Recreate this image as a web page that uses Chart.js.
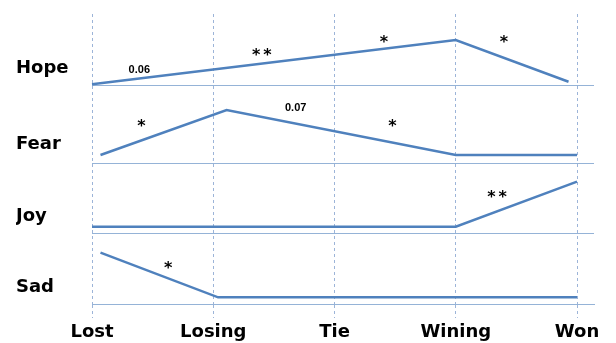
<!DOCTYPE html>
<html>
<head>
<meta charset="utf-8">
<script src="https://cdn.jsdelivr.net/npm/chart.js@4"></script>
<style>
  html, body { margin: 0; padding: 0; background: #fff; }
  #wrap { width: 616px; height: 343px; }
</style>
</head>
<body>
<div id="wrap"><canvas id="emoChart"></canvas></div>
<script>
const outcomes = ['Lost', 'Losing', 'Tie', 'Wining', 'Won'];
const emotions = ['Hope', 'Fear', 'Joy', 'Sad'];

// x = outcome step (0 Lost ... 4 Won), y = rating on a 0-10 panel scale
const hopeX = [0, 3, 3.93];
const hopeY = [0.1, 6.34, 0.46];
const fearX = [0.07, 1.11, 3, 4];
const fearY = [1.03, 6.79, 1.03, 1.03];
const joyX = [0, 3, 4];
const joyY = [0.9, 0.9, 7.33];
const sadX = [0.07, 1.04, 4];
const sadY = [7.23, 0.94, 0.94];

// significance marks
const noteText = ['0.06', '**', '*', '*', '*', '0.07', '*', '**', '*'];
const notePanel = ['Hope', 'Hope', 'Hope', 'Hope', 'Fear', 'Fear', 'Fear', 'Joy', 'Sad'];
const noteX = [0.39, 1.40, 2.42, 3.41, 0.42, 1.68, 2.49, 3.34, 0.64];
const noteY = [2.25, 4.65, 6.48, 6.48, 5.13, 7.18, 5.13, 5.57, 5.49];

const labelLevel = 2.35;
const lineBlue = '#4f81bd';
const baseBlue = '#95b3d7';
const dashBlue = '#9cb4d8';

const toPoints = (xs, ys) => xs.map((x, i) => ({ x: x, y: ys[i] }));

const noteLabels = {
        id: 'noteLabels',
        afterDatasetsDraw(chart) {
                const ctx = chart.ctx;
                const xs = chart.scales.x;
                ctx.save();
                ctx.fillStyle = '#000';
                ctx.textAlign = 'center';
                ctx.textBaseline = 'alphabetic';
                noteText.forEach((t, i) => {
                        const ys = chart.scales[notePanel[i]];
                        const px = xs.getPixelForValue(noteX[i]);
                        const py = ys.getPixelForValue(noteY[i]);
                        const star = t.indexOf('*') >= 0;
                        if (star) {
                                ctx.font = 'bold 16px "DejaVu Sans"';
                                ctx.letterSpacing = '3px';
                        } else {
                                ctx.font = 'bold 11px "Liberation Sans"';
                                ctx.letterSpacing = '0px';
                        }
                        const m = ctx.measureText(t);
                        const off = (m.actualBoundingBoxAscent - m.actualBoundingBoxDescent) / 2;
                        const shift = star ? (t.length - 1) * 1.5 : 0;
                        ctx.fillText(t, px + shift, py + off);
                });
                ctx.restore();
        }
};

function emotionScale(name, weight, height) {
        return {
                type: 'linear',
                position: 'left',
                stack: 'emo',
                stackWeight: height,
                weight: weight,
                min: 0,
                max: 10,
                border: { display: false },
                grid: {
                        drawTicks: false,
                        lineWidth: 1,
                        color: (c) => (c.tick && c.tick.value === 0) ? baseBlue : 'rgba(0,0,0,0)'
                },
                afterBuildTicks: (scale) => {
                        scale.ticks = [{ value: 0 }, { value: labelLevel }];
                },
                afterFit: (scale) => { scale.width = 76; },
                ticks: {
                        crossAlign: 'far',
                        autoSkip: false,
                        color: '#000',
                        font: { family: '"DejaVu Sans"', size: 18, weight: 'bold' },
                        callback: (v) => v === labelLevel ? name : ''
                }
        };
}

const lineSet = (label, pts, axis) => ({
        label: label,
        data: pts,
        yAxisID: axis,
        borderColor: lineBlue,
        borderWidth: 2.5,
        pointRadius: 0,
        tension: 0,
        clip: false
});

const chart = new Chart(document.getElementById('emoChart').getContext('2d'), {
        type: 'line',
        data: {
                datasets: [
                        lineSet('Hope', toPoints(hopeX, hopeY), 'Hope'),
                        lineSet('Fear', toPoints(fearX, fearY), 'Fear'),
                        lineSet('Joy', toPoints(joyX, joyY), 'Joy'),
                        lineSet('Sad', toPoints(sadX, sadY), 'Sad')
                ]
        },
        options: {
                responsive: true,
                maintainAspectRatio: false,
                animation: false,
                layout: { padding: { left: 16, right: 22, top: 14, bottom: 0 } },
                plugins: { legend: { display: false }, tooltip: { enabled: false } },
                scales: {
                        x: {
                                type: 'linear',
                                min: 0,
                                max: 4.14,
                                // v4: border.dash styles the grid lines
                                border: { display: true, color: baseBlue, width: 1, dash: [3, 3] },
                                grid: {
                                        color: dashBlue,
                                        lineWidth: 1,
                                        tickBorderDash: [3, 3],
                                        tickLength: 14
                                },
                                afterBuildTicks: (scale) => {
                                        scale.ticks = outcomes.map((o, i) => ({ value: i }));
                                },
                                afterFit: (scale) => { scale.height = 39; },
                                ticks: {
                                        autoSkip: false,
                                        maxRotation: 0,
                                        padding: 4,
                                        color: '#000',
                                        font: { family: '"DejaVu Sans"', size: 18, weight: 'bold' },
                                        callback: (v) => outcomes[v] || ''
                                }
                        },
                        Hope: emotionScale(emotions[0], 4, 71),
                        Fear: emotionScale(emotions[1], 3, 78),
                        Joy: emotionScale(emotions[2], 2, 70),
                        Sad: emotionScale(emotions[3], 1, 71)
                }
        },
        plugins: [noteLabels]
});
</script>
</body>
</html>
